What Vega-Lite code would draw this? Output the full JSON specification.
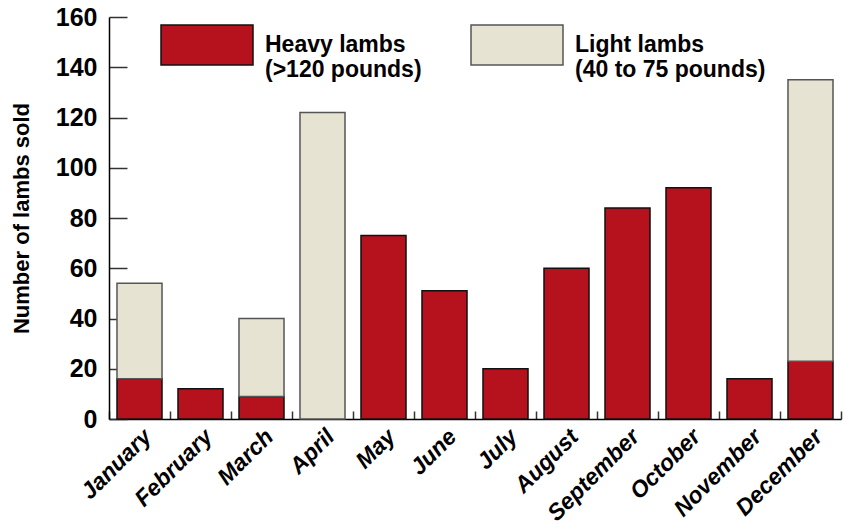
{
  "$schema": "https://vega.github.io/schema/vega-lite/v6.json",
  "width": 732,
  "height": 402,
  "autosize": {"type": "none"},
  "padding": {"left": 109, "top": 17, "right": 2, "bottom": 106},
  "background": "white",
  "data": {
    "values": [
      {"month": "January", "type": "Heavy", "count": 16},
      {"month": "January", "type": "Light", "count": 38},
      {"month": "February", "type": "Heavy", "count": 12},
      {"month": "March", "type": "Heavy", "count": 9},
      {"month": "March", "type": "Light", "count": 31},
      {"month": "April", "type": "Light", "count": 122},
      {"month": "May", "type": "Heavy", "count": 73},
      {"month": "June", "type": "Heavy", "count": 51},
      {"month": "July", "type": "Heavy", "count": 20},
      {"month": "August", "type": "Heavy", "count": 60},
      {"month": "September", "type": "Heavy", "count": 84},
      {"month": "October", "type": "Heavy", "count": 92},
      {"month": "November", "type": "Heavy", "count": 16},
      {"month": "December", "type": "Heavy", "count": 23},
      {"month": "December", "type": "Light", "count": 112}
    ]
  },
  "mark": {"type": "bar", "width": {"band": 0.738}, "strokeWidth": 1.5, "opacity": 1},
  "encoding": {
    "x": {
      "field": "month",
      "type": "nominal",
      "sort": ["January", "February", "March", "April", "May", "June", "July", "August", "September", "October", "November", "December"],
      "scale": {"paddingInner": 0, "paddingOuter": 0},
      "axis": {
        "title": null,
        "tickBand": "extent",
        "tickSize": -8,
        "tickWidth": 1.5,
        "tickColor": "#333333",
        "domainColor": "#000000",
        "domainWidth": 1.5,
        "labelAngle": -45,
        "labelFont": "Liberation Sans",
        "labelFontSize": 23,
        "labelFontWeight": "bold",
        "labelFontStyle": "italic",
        "labelColor": "#000000",
        "labelPadding": 14,
        "labelDx": 4,
        "labelAlign": "right",
        "labelBaseline": "top"
      }
    },
    "y": {
      "field": "count",
      "type": "quantitative",
      "stack": "zero",
      "scale": {"domain": [0, 160], "nice": false},
      "axis": {
        "title": "Number of lambs sold",
        "titleFont": "Liberation Sans",
        "titleFontSize": 22,
        "titleFontWeight": "bold",
        "titleColor": "#000000",
        "titlePadding": 22,
        "values": [0, 20, 40, 60, 80, 100, 120, 140, 160],
        "grid": false,
        "tickSize": -18,
        "tickWidth": 1.5,
        "tickColor": "#333333",
        "domainColor": "#000000",
        "domainWidth": 1.5,
        "labelFont": "Liberation Sans",
        "labelFontSize": 25,
        "labelFontWeight": "bold",
        "labelColor": "#000000",
        "labelPadding": 30
      }
    },
    "color": {
      "field": "type",
      "type": "nominal",
      "scale": {"domain": ["Heavy", "Light"], "range": ["#B5121D", "#E6E3D3"]},
      "legend": {
        "title": null,
        "orient": "none",
        "legendX": 51,
        "legendY": -19,
        "direction": "horizontal",
        "symbolType": "M-1,-0.435H1V0.435H-1Z",
        "symbolSize": 8464,
        "symbolStrokeWidth": 1.5,
        "labelFont": "Liberation Sans",
        "labelFontSize": 23,
        "labelFontWeight": "bold",
        "labelColor": "#000000",
        "labelOffset": 11,
        "labelLimit": 400,
        "columnPadding": 46,
        "labelExpr": "datum.value == 'Heavy' ? ['Heavy lambs', '(>120 pounds)'] : ['Light lambs', '(40 to 75 pounds)']",
        "encoding": {"labels": {"update": {"lineHeight": {"value": 30}, "dy": {"value": -6}}}}
      }
    },
    "stroke": {
      "field": "type",
      "type": "nominal",
      "scale": {"domain": ["Heavy", "Light"], "range": ["#111111", "#555555"]},
      "legend": null
    },
    "order": {"field": "type", "sort": "ascending"}
  },
  "config": {
    "view": {"stroke": null},
    "axis": {"labelOverlap": false}
  }
}
